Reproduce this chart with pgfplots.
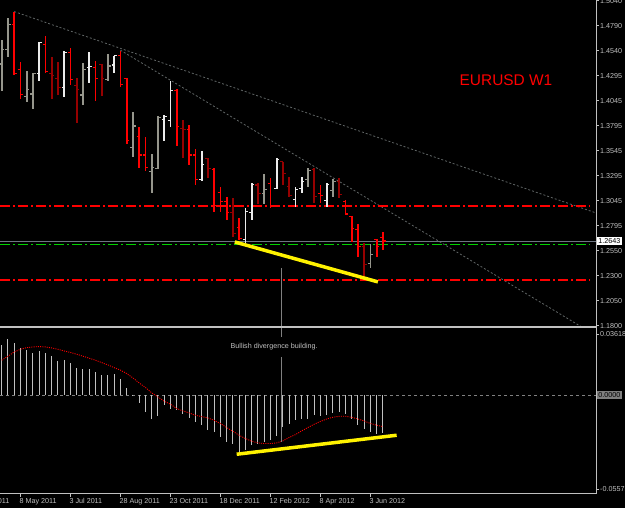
\documentclass[border=0pt]{standalone}
\usepackage{pgfplots}
\pgfplotsset{compat=1.18}
\usepackage{pgfplotstable}
\usepackage{fontspec}
\setmainfont{Liberation Sans}

\definecolor{mtred}{RGB}{255,0,0}
\definecolor{mtdred}{RGB}{150,0,0}
\definecolor{mtgrey}{RGB}{150,150,140}
\definecolor{mtwhite}{RGB}{235,235,235}
\definecolor{axgrey}{RGB}{192,192,192}
\definecolor{trgrey}{RGB}{95,100,100}
\definecolor{bidgrey}{RGB}{110,118,130}
\definecolor{mtgreen}{RGB}{0,210,0}

\pgfdeclareplotmark{otick}{\pgfpathmoveto{\pgfpoint{-2.6bp}{0bp}}\pgfpathlineto{\pgfpoint{0bp}{0bp}}\pgfusepathqstroke}
\pgfdeclareplotmark{ctick}{\pgfpathmoveto{\pgfpoint{0bp}{0bp}}\pgfpathlineto{\pgfpoint{2.6bp}{0bp}}\pgfusepathqstroke}

\pgfplotstableread{
i o h l c k
0 1.4408 1.4648 1.4142 1.4548 1
1 1.4548 1.4864 1.4475 1.4797 1
2 1.4804 1.4930 1.4299 1.4309 2
3 1.4349 1.4431 1.4060 1.4106 2
4 1.4082 1.4339 1.4033 1.4156 1
5 1.4109 1.4316 1.3957 1.4309 1
6 1.4309 1.4631 1.4242 1.4625 0
7 1.4605 1.4687 1.4316 1.4332 2
8 1.4316 1.4481 1.4060 1.4296 3
9 1.4266 1.4431 1.4099 1.4176 3
10 1.4176 1.4541 1.4082 1.4521 0
11 1.4525 1.4565 1.4199 1.4249 2
12 1.4196 1.4266 1.3823 1.4149 3
13 1.4099 1.4421 1.4000 1.4349 1
14 1.4372 1.4531 1.4216 1.4381 0
15 1.4376 1.4438 1.4040 1.4266 2
16 1.4405 1.4408 1.4089 1.4266 3
17 1.4249 1.4508 1.4239 1.4388 1
18 1.4398 1.4491 1.4316 1.4488 0
19 1.4491 1.4538 1.4176 1.4199 2
20 1.4266 1.4266 1.3611 1.3644 2
21 1.3578 1.3927 1.3484 1.3790 1
22 1.3684 1.3777 1.3369 1.3501 2
23 1.3501 1.3678 1.3345 1.3379 2
24 1.3335 1.3511 1.3126 1.3375 1
25 1.3369 1.3890 1.3359 1.3877 1
26 1.3857 1.3900 1.3644 1.3883 0
27 1.3840 1.4239 1.3777 1.4142 0
28 1.4142 1.4156 1.3591 1.3783 2
29 1.3767 1.3850 1.3474 1.3758 3
30 1.3751 1.3800 1.3402 1.3501 2
31 1.3501 1.3558 1.3202 1.3252 2
32 1.3259 1.3541 1.3245 1.3402 0
33 1.3462 1.3468 1.3269 1.3369 3
34 1.3359 1.3369 1.2936 1.2993 2
35 1.3126 1.3185 1.2936 1.3033 2
36 1.3033 1.3080 1.2854 1.2926 2
37 1.2926 1.3070 1.2687 1.2714 3
38 1.2781 1.2870 1.2654 1.2664 2
39 1.2654 1.2970 1.2621 1.2936 0
40 1.2930 1.3219 1.2854 1.3209 0
41 1.3202 1.3219 1.3013 1.3120 3
42 1.3120 1.3312 1.3013 1.3160 1
43 1.3219 1.3269 1.2970 1.2986 2
44 1.3169 1.3468 1.3160 1.3452 0
45 1.3435 1.3435 1.3202 1.3319 3
46 1.3185 1.3285 1.3086 1.3096 3
47 1.3053 1.3180 1.2986 1.3153 0
48 1.3169 1.3279 1.3126 1.3235 0
49 1.3259 1.3369 1.3180 1.3345 1
50 1.3352 1.3369 1.3026 1.3086 3
51 1.3120 1.3202 1.3020 1.3093 2
52 1.3046 1.3219 1.2986 1.3209 0
53 1.3146 1.3259 1.3086 1.3235 1
54 1.3235 1.3269 1.3070 1.3103 3
55 1.3036 1.3053 1.2903 1.2913 2
56 1.2886 1.2893 1.2637 1.2771 2
57 1.2754 1.2814 1.2488 1.2587 2
58 1.2587 1.2621 1.2288 1.2405 3
59 1.2422 1.2614 1.2372 1.2505 1
60 1.2654 1.2661 1.2488 1.2587 2
61 1.2681 1.2737 1.2554 1.2643 2
}\pricedata

\pgfplotstableread{
i m s
0 0.0297 0.0208
1 0.0337 0.0232
2 0.0313 0.0257
3 0.0283 0.0273
4 0.0267 0.0283
5 0.0248 0.0287
6 0.0263 0.0289
7 0.0251 0.0287
8 0.0232 0.0281
9 0.0204 0.0273
10 0.0208 0.0263
11 0.0192 0.0254
12 0.0164 0.0244
13 0.0158 0.0232
14 0.0158 0.0220
15 0.0139 0.0208
16 0.0123 0.0194
17 0.0123 0.0180
18 0.0129 0.0164
19 0.0099 0.0149
20 0.0044 0.0129
21 0.0003 0.0103
22 -0.0046 0.0073
23 -0.0099 0.0046
24 -0.0139 0.0014
25 -0.0125 -0.0010
26 -0.0059 -0.0036
27 -0.0079 -0.0053
28 -0.0089 -0.0079
29 -0.0109 -0.0093
30 -0.0133 -0.0105
31 -0.0158 -0.0119
32 -0.0178 -0.0127
33 -0.0208 -0.0135
34 -0.0218 -0.0149
35 -0.0248 -0.0168
36 -0.0277 -0.0192
37 -0.0287 -0.0214
38 -0.0337 -0.0238
39 -0.0327 -0.0257
40 -0.0297 -0.0273
41 -0.0287 -0.0283
42 -0.0277 -0.0287
43 -0.0267 -0.0287
44 -0.0240 -0.0283
45 -0.0190 -0.0271
46 -0.0168 -0.0251
47 -0.0149 -0.0234
48 -0.0139 -0.0212
49 -0.0139 -0.0192
50 -0.0119 -0.0172
51 -0.0125 -0.0156
52 -0.0119 -0.0141
53 -0.0105 -0.0131
54 -0.0099 -0.0125
55 -0.0109 -0.0125
56 -0.0139 -0.0131
57 -0.0178 -0.0141
58 -0.0198 -0.0153
59 -0.0218 -0.0168
60 -0.0228 -0.0178
61 -0.0224 -0.0186
}\macddata

% MACD panel is drawn inside the same axis: value v sits at \mz + \mk*v
\newcommand{\mz}{1.11063}
\newcommand{\mk}{1.6774}

\newcommand{\ohlc}[2]{%
  \addplot[draw=none, mark=none, forget plot,
    restrict expr to domain={\thisrow{k}}{#1:#1},
    error bars/.cd, y dir=both, y explicit, error mark=none,
    error bar style={draw=#2, line width=1.8bp}]
    table[x=i, y expr={(\thisrow{h}+\thisrow{l})/2}, y error expr={(\thisrow{h}-\thisrow{l})/2}] {\pricedata};
  \addplot[only marks, mark=otick, draw=#2, mark options={draw=#2, line width=1.1bp}, forget plot,
    restrict expr to domain={\thisrow{k}}{#1:#1}]
    table[x=i, y=o] {\pricedata};
  \addplot[only marks, mark=ctick, draw=#2, mark options={draw=#2, line width=1.1bp}, forget plot,
    restrict expr to domain={\thisrow{k}}{#1:#1}]
    table[x=i, y=c] {\pricedata};
}

\newcommand{\tfont}{\fontsize{7.2}{8}\selectfont}

\begin{document}
\begin{tikzpicture}[x=1bp,y=1bp]
\fill[black] (0,0) rectangle (625,508);
\begin{pgfinterruptboundingbox}
\clip (0,0) rectangle (625,508);
\begin{axis}[
  at={(0,14)}, anchor=south west, scale only axis,
  width=596bp, height=494bp,
  xmin=-0.27, xmax=95.1, ymin=1.01225, ymax=1.5046,
  scaled y ticks=false, scaled x ticks=false,
  axis y line*=right, axis x line*=bottom,
  axis line style={-, axgrey, line width=1bp},
  xtick={3,11,19,27,35,43,51,59},
  xticklabels={8 May 2011,3 Jul 2011,28 Aug 2011,23 Oct 2011,18 Dec 2011,12 Feb 2012,8 Apr 2012,3 Jun 2012},
  ytick={1.01711,1.17132,1.1800,1.20492,1.22984,1.25475,1.27967,1.30459,1.32951,1.35443,1.37934,1.40426,1.42918,1.45410,1.47902,1.50393},
  yticklabels={-0.05575,0.03618,1.1800,1.2050,1.2300,1.2550,1.2795,1.3045,1.3295,1.3545,1.3795,1.4045,1.4295,1.4540,1.4790,1.5040},
  tick align=outside, major tick length=3bp,
  tick style={axgrey, line width=0.8bp},
  yticklabel style={font=\tfont, text=axgrey, inner sep=1bp},
  xticklabel style={font=\tfont, text=axgrey, anchor=north west, xshift=-2bp, inner sep=1bp},
]
% ---- price panel ----
\addplot[draw=trgrey, line width=0.8bp, dash pattern=on 2bp off 2bp] coordinates {(2,1.4930) (95.1,1.2923)};
\addplot[draw=trgrey, line width=0.8bp, dash pattern=on 2bp off 2bp] coordinates {(19,1.4545) (92.8,1.1787)};
\addplot[draw=mtred, line width=1.6bp, dash pattern=on 10bp off 3bp on 2bp off 3bp] coordinates {(-0.27,1.2995) (94.1,1.2995)};
\addplot[draw=mtred, line width=1.6bp, dash pattern=on 10bp off 3bp on 2bp off 3bp] coordinates {(-0.27,1.2252) (94.1,1.2252)};
\addplot[draw=bidgrey, line width=0.9bp] coordinates {(-0.27,1.2643) (95.1,1.2643)};
\addplot[draw=mtgreen, line width=1.6bp, dash pattern=on 10bp off 3bp on 2bp off 3bp] coordinates {(-0.27,1.2608) (94.1,1.2608)};
\ohlc{0}{mtwhite}
\ohlc{1}{mtgrey}
\ohlc{2}{mtred}
\ohlc{3}{mtdred}
\addplot[draw=yellow, line width=3.5bp] coordinates {(37.3,1.2634) (60.2,1.2236)};
\addplot[draw=gray, line width=0.8bp] coordinates {(44.7,1.2375) (44.7,1.1687)};
% panel separator
\addplot[draw=axgrey, line width=2.4bp] coordinates {(-0.27,1.1787) (95.1,1.1787)};
% ---- MACD panel ----
\addplot[draw=gray, line width=0.8bp, dash pattern=on 3bp off 3bp] coordinates {(-0.27,1.11063) (95.1,1.11063)};
\addplot[draw=none, mark=none, forget plot,
    error bars/.cd, y dir=both, y explicit, error mark=none,
    error bar style={draw=axgrey, line width=1bp}]
    table[x=i, y expr={\mz+\mk*\thisrow{m}/2}, y error expr={abs(\mk*\thisrow{m}/2)}] {\macddata};
\addplot[draw=mtred, line width=0.9bp, dash pattern=on 1bp off 1.2bp, mark=none]
    table[x=i, y expr={\mz+\mk*\thisrow{s}}] {\macddata};
\addplot[draw=yellow, line width=3.5bp] coordinates {(37.6,1.05182) (63.2,1.07076)};
\addplot[draw=gray, line width=0.8bp] coordinates {(44.7,1.14887) (44.7,1.06408)};
\coordinate (txt) at (axis cs:43.6,1.15877);
\coordinate (bid) at (axis cs:95.1,1.2643);
\coordinate (zero) at (axis cs:95.1,1.11063);
\coordinate (d0) at (axis cs:-5,1.01225);
\coordinate (title) at (axis cs:80.7,1.4249);
\end{axis}
\node[text=mtred, font=\fontsize{15.5}{17}\selectfont] at (title) {EURUSD W1};
\node[text=axgrey, font=\tfont] at (txt) {Bullish divergence building.};
\node[anchor=west, fill=white, text=black, inner sep=1.2bp, font=\tfont] at ([xshift=1bp]bid) {1.2643};
\node[anchor=west, fill={rgb,255:red,128;green,128;blue,128}, text=black, inner sep=1.2bp, font=\tfont] at ([xshift=1bp]zero) {0.0000};
\node[anchor=north west, text=axgrey, inner sep=1bp, font=\tfont] at ([yshift=-3bp, xshift=-2bp]d0) {13 Mar 2011};
\end{pgfinterruptboundingbox}
\useasboundingbox (0,0) rectangle (625,508);
\end{tikzpicture}
\end{document}
